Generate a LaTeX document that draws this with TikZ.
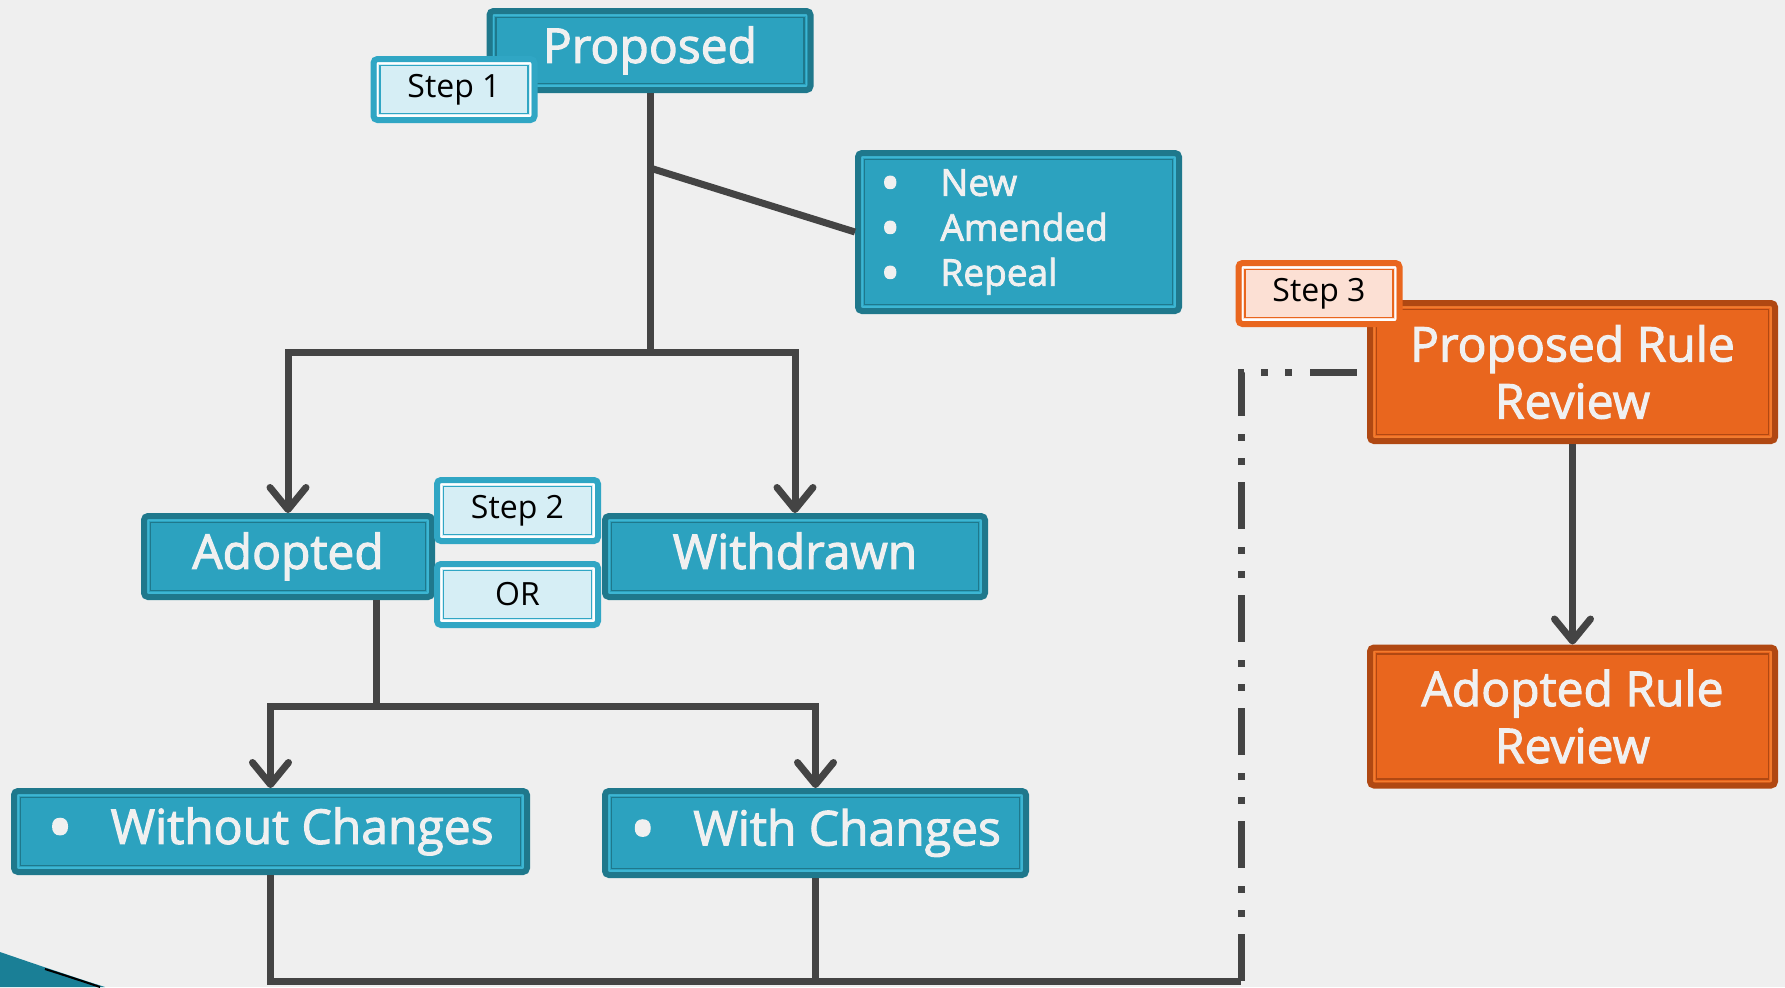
\documentclass[tikz,border=0pt]{standalone}
\usepackage{graphicx}
\usepackage{fontspec}
\setmainfont{Open Sans}
\newfontfamily\boxfont[FakeBold=2.2]{Open Sans}
\usetikzlibrary{arrows.meta}

\newcommand\blt{\smash{\raisebox{-0.15em}{\scalebox{1.4}{\textbullet}}}}

\definecolor{bgcol}{HTML}{EFEFEF}
\definecolor{tealfill}{HTML}{2CA2BF}
\definecolor{tealdark}{HTML}{1F788C}
\definecolor{teallight}{HTML}{3DB6D3}
\definecolor{stepteal}{HTML}{30A6C4}
\definecolor{stepfill}{HTML}{D6EEF5}
\definecolor{orangefill}{HTML}{E9661E}
\definecolor{orangedark}{HTML}{B04812}
\definecolor{orangelight}{HTML}{F27B2E}
\definecolor{peachfill}{HTML}{FCE0D4}
\definecolor{linecol}{HTML}{444444}
\definecolor{boxtext}{HTML}{F0F0F0}
\definecolor{swoosh}{HTML}{1A7F96}

\begin{document}
\begin{tikzpicture}[
  x=0.5pt, y=-0.5pt,
  framed/.style n args={3}{draw=#1, fill=#2, line width=3pt, rounded corners=2pt, inner sep=0pt,
    path picture={
      \draw[#3, line width=0.7pt, rounded corners=0pt]
        ([shift={(2pt,2pt)}]path picture bounding box.south west) rectangle
        ([shift={(-2pt,-2pt)}]path picture bounding box.north east);
      \draw[#1, line width=0.7pt, rounded corners=0pt]
        ([shift={(3.2pt,3.2pt)}]path picture bounding box.south west) rectangle
        ([shift={(-3.2pt,-3.2pt)}]path picture bounding box.north east);
    }},
  bluebox/.style={framed={tealdark}{tealfill}{teallight}, text=boxtext,
    font=\boxfont\fontsize{24}{28.5}\selectfont, align=center},
  oneline/.style={text height=18.2pt, text depth=5.8pt},
  orangebox/.style={framed={orangedark}{orangefill}{orangelight}, text=boxtext,
    font=\boxfont\fontsize{24}{28.5}\selectfont, align=center,
    minimum width=202.5pt, minimum height=69pt},
  stepbox/.style={framed={stepteal}{stepfill}{white}, text=black,
    font=\fontsize{16}{19}\selectfont, minimum width=80.5pt, minimum height=30.5pt},
  ostepbox/.style={stepbox, framed={orangefill}{peachfill}{white}},
  conn/.style={draw=linecol, line width=3.5pt},
  arrowline/.style={conn, -{Straight Barb[length=11pt, width=18pt, round]}},
  ddot/.style={conn, dash pattern=on 23.5pt off 8.5pt on 3.5pt off 8.5pt on 3.5pt off 9pt}
]

% page
\fill[bgcol] (0,0) rectangle (1785,987);
\useasboundingbox (0,0) rectangle (1785,987);
\fill[swoosh] (0,952) .. controls (35,964) and (70,976) .. (105,987) -- (0,987) -- cycle;
\draw[black, line width=1pt] (45,969) .. controls (70,977) .. (100,987);

% main boxes
\node[bluebox, oneline, minimum width=160.5pt, minimum height=39.5pt] (prop) at (650,50.5) {Proposed};
\node[bluebox, font=\boxfont\fontsize{18.5}{22.5}\selectfont, align=left, text width=138pt,
  inner xsep=11pt, minimum width=160.5pt, minimum height=79pt] (nar) at (1018.5,232)
  {\makebox[30pt][l]{\blt}New\\\makebox[30pt][l]{\blt}Amended\\\makebox[30pt][l]{\blt}Repeal};
\node[bluebox, oneline, minimum width=144pt, minimum height=40.5pt] (adopt) at (288,556.5) {Adopted};
\node[bluebox, oneline, minimum width=190pt, minimum height=40.5pt] (withdr) at (795,556.5) {Withdrawn};
\node[bluebox, oneline, minimum width=256.5pt, minimum height=40.5pt] (without) at (270.5,831.5)
  {\blt\hspace{19pt}Without Changes};
\node[bluebox, oneline, minimum width=210.5pt, minimum height=42pt] (with) at (815.5,833)
  {\blt\hspace{19pt}With Changes};
\node[orangebox] (prr) at (1572.5,372) {Proposed Rule\\Review};
\node[orangebox] (adrev) at (1572.5,716.5) {Adopted Rule\\Review};

% joints
\coordinate (tap) at (650,168);
\coordinate (split1) at (650,352);
\coordinate (split2) at (376,706);
\coordinate (base) at (1241,981);
\coordinate (corner) at (1241,372);

% connectors
\draw[conn] (prop) -- (split1);
\draw[conn] (tap) -- (nar.west);
\draw[arrowline] (split1) -| (adopt);
\draw[arrowline] (split1) -| (withdr);
\draw[conn] (adopt.south -| split2) -- (split2);
\draw[arrowline] (split2) -| (without);
\draw[arrowline] (split2) -| (with);
\draw[conn] (without) |- (base);
\draw[conn] (with) -- (with |- base);
\draw[ddot] (base) -- (corner) -- (prr);
\draw[arrowline] (prr) -- (adrev);

% step tags
\node[stepbox] (step1) at (454,89.5) {Step 1};
\node[stepbox] (step2) at (517.5,510.5) {Step 2};
\node[stepbox] (orbox) at (517.5,594.5) {OR};
\node[ostepbox] (step3) at (1319,293.5) {Step 3};

\end{tikzpicture}
\end{document}
